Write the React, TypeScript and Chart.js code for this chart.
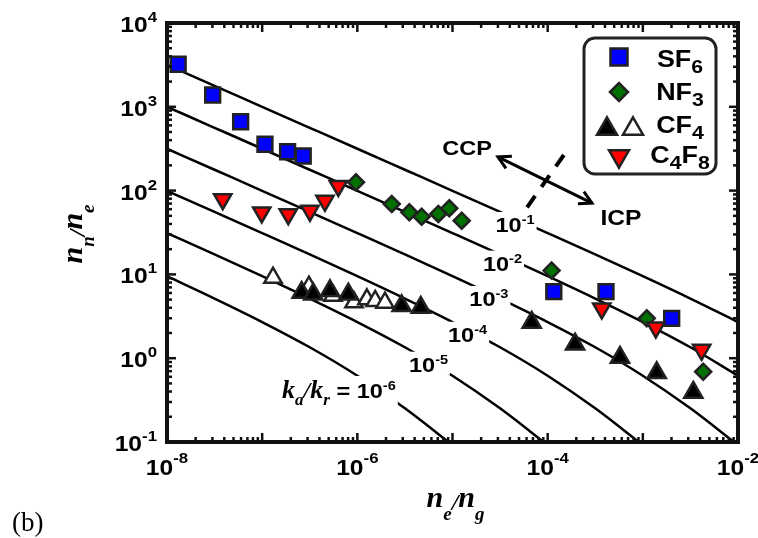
import React, { useEffect, useRef } from 'react';
import { Chart, registerables } from 'chart.js';
Chart.register(...registerables);

// ---------------- data ----------------
const SF6_X = [1.31e-8, 3.02e-8, 5.94e-8, 1.07e-7, 1.85e-7, 2.7e-7, 1.16e-4, 4.1e-4, 2.01e-3];
const SF6_Y = [3215, 1383, 664, 357, 291, 259, 6.22, 6.22, 2.99];

const NF3_X = [9.68e-7, 2.3e-6, 3.52e-6, 4.74e-6, 7.1e-6, 9.25e-6, 1.25e-5, 1.1e-4, 1.1e-3, 4.31e-3];
const NF3_Y = [125.6, 69.2, 55.1, 48.8, 52.6, 61.5, 43.7, 11.1, 2.99, 0.69];

const CF4_FILLED_X = [2.6e-7, 3.44e-7, 5.16e-7, 8.04e-7, 2.92e-6, 4.64e-6, 6.79e-5, 1.94e-4, 5.75e-4, 1.4e-3, 3.39e-3];
const CF4_FILLED_Y = [6.08, 5.81, 6.37, 5.81, 4.22, 4.03, 2.67, 1.47, 1.02, 0.67, 0.39];

const CF4_OPEN_X = [1.3e-7, 3.1e-7, 5.54e-7, 9.23e-7, 1.26e-6, 1.54e-6, 1.95e-6];
const CF4_OPEN_Y = [9.14, 7.13, 5.57, 4.65, 5.05, 4.82, 4.59];

const C4F8_X = [3.85e-8, 9.89e-8, 1.88e-7, 3.18e-7, 4.57e-7, 6.31e-7, 3.7e-4, 1.37e-3, 4.15e-3];
const C4F8_Y = [79, 54.8, 52.3, 57.4, 75.5, 113.5, 3.92, 2.32, 1.26];

// model curves k_a/k_r = 1e-1 ... 1e-6
const CURVE_X = [1e-8, 3.16e-8, 1e-7, 3.16e-7, 1e-6, 3.16e-6, 1e-5, 3.16e-5, 1e-4, 3.16e-4, 1e-3, 3.16e-3, 1e-2];
const CURVE_1 = [3162, 1778, 999.5, 562, 315.7, 177.3, 99.5, 55.7, 31.1, 17.3, 9.51, 5.14, 2.7];
const CURVE_2 = [999.5, 562, 315.7, 177.3, 99.5, 55.7, 31.1, 17.3, 9.51, 5.14, 2.7, 1.35, 0.618];
const CURVE_3 = [315.7, 177.3, 99.5, 55.7, 31.1, 17.3, 9.51, 5.14, 2.7, 1.35, 0.618, 0.252, 0.0916];
const CURVE_4 = [99.5, 55.7, 31.1, 17.3, 9.51, 5.14, 2.7, 1.35, 0.618, 0.252, 0.0916];
const CURVE_5 = [31.1, 17.3, 9.51, 5.14, 2.7, 1.35, 0.618, 0.252, 0.0916];
const CURVE_6 = [9.51, 5.14, 2.7, 1.35, 0.618, 0.252, 0.0916];

// curve labels (exponent, anchor x, anchor baseline y in data units)
const CURVE_LABEL_EXP = ['-1', '-2', '-3', '-4', '-5'];
const CURVE_LABEL_X = [4.54e-5, 3.35e-5, 2.41e-5, 1.44e-5, 5.6e-6];
const CURVE_LABEL_Y = [32.1, 11.1, 4.2, 1.57, 0.69];
const K_LABEL_X = 6.41e-7;
const K_LABEL_Y = 0.335;

const CCP_POS = [1.42e-5, 266];
const ICP_POS = [5.89e-4, 38.8];
const ARROW_FROM = [3.0e-5, 252];
const ARROW_TO = [2.92e-4, 71];
const DASH_FROM = [1.48e-4, 266];
const DASH_TO = [5.91e-5, 60.3];

const X_TICK_EXPONENTS = [-8, -6, -4, -2];
const Y_TICK_EXPONENTS = [-1, 0, 1, 2, 3, 4];

// ---------------- styling ----------------
const SANS = '"Liberation Sans", Arial, sans-serif';
const SERIF = '"Liberation Serif", "Times New Roman", serif';
const SX = 1.12;
const BLUE = '#0000FF';
const GREEN = '#007000';
const RED = '#FF0000';
const EDGE = '#222222';

type Seg = { t: string; f: string; dy?: number; sx?: number; dx?: number };

function segW(ctx: CanvasRenderingContext2D, s: Seg) {
  ctx.font = s.f;
  return ctx.measureText(s.t).width * (s.sx ?? 1) + (s.dx ?? 0);
}
function richWidth(ctx: CanvasRenderingContext2D, segs: Seg[]) {
  return segs.reduce((a, s) => a + segW(ctx, s), 0);
}
function drawRich(ctx: CanvasRenderingContext2D, segs: Seg[], x: number, y: number, align: 'left' | 'center' | 'right') {
  const total = richWidth(ctx, segs);
  let cx = align === 'left' ? x : align === 'center' ? x - total / 2 : x - total;
  for (const s of segs) {
    const w = segW(ctx, s);
    ctx.save();
    ctx.font = s.f;
    ctx.textAlign = 'left';
    ctx.textBaseline = 'alphabetic';
    ctx.translate(cx + (s.dx ?? 0), y + (s.dy ?? 0));
    ctx.scale(s.sx ?? 1, 1);
    ctx.fillText(s.t, 0, 0);
    ctx.restore();
    cx += w;
  }
  return total;
}

function triPath(ctx: CanvasRenderingContext2D, cx: number, cy: number, w: number, down: boolean) {
  const h = w * 0.866;
  ctx.beginPath();
  if (!down) {
    ctx.moveTo(cx, cy - h / 2);
    ctx.lineTo(cx + w / 2, cy + h / 2);
    ctx.lineTo(cx - w / 2, cy + h / 2);
  } else {
    ctx.moveTo(cx, cy + h / 2);
    ctx.lineTo(cx + w / 2, cy - h / 2);
    ctx.lineTo(cx - w / 2, cy - h / 2);
  }
  ctx.closePath();
}

const annotPlugin = {
  id: 'annot',
  afterDatasetsDraw(chart: any) {
    const ctx: CanvasRenderingContext2D = chart.ctx;
    const xs = chart.scales.x;
    const ys = chart.scales.y;
    const a = chart.chartArea;
    const X = (v: number) => xs.getPixelForValue(v);
    const Y = (v: number) => ys.getPixelForValue(v);
    ctx.save();
    ctx.fillStyle = '#000';

    // curve labels with white background
    const big = `bold 21px ${SANS}`;
    const sup = `bold 13px ${SANS}`;
    CURVE_LABEL_EXP.forEach((e, i) => {
      const segs: Seg[] = [
        { t: '10', f: big, sx: SX },
        { t: e, f: sup, dy: -8, sx: SX },
      ];
      const cx = X(CURVE_LABEL_X[i]);
      const by = Y(CURVE_LABEL_Y[i]);
      const w = richWidth(ctx, segs);
      ctx.fillStyle = '#fff';
      ctx.fillRect(cx - w / 2 - 2, by - 20, w + 4, 23);
      ctx.fillStyle = '#000';
      drawRich(ctx, segs, cx, by, 'center');
    });
    {
      const it = `italic bold 26px ${SERIF}`;
      const itSub = `italic bold 17px ${SERIF}`;
      const segs: Seg[] = [
        { t: 'k', f: it },
        { t: 'a', f: itSub, dy: 7 },
        { t: '/', f: `italic bold 24px ${SERIF}` },
        { t: 'k', f: it },
        { t: 'r', f: itSub, dy: 7 },
        { t: ' = ', f: big, sx: SX },
        { t: '10', f: big, sx: SX },
        { t: '-6', f: sup, dy: -8, sx: SX },
      ];
      const cx = X(K_LABEL_X);
      const by = Y(K_LABEL_Y);
      const w = richWidth(ctx, segs);
      ctx.fillStyle = '#fff';
      ctx.fillRect(cx - w / 2 - 2, by - 22, w + 4, 32);
      ctx.fillStyle = '#000';
      drawRich(ctx, segs, cx, by, 'center');
    }

    // CCP / ICP
    drawRich(ctx, [{ t: 'CCP', f: `bold 21px ${SANS}`, sx: SX }], X(CCP_POS[0]), Y(CCP_POS[1]), 'center');
    drawRich(ctx, [{ t: 'ICP', f: `bold 22px ${SANS}`, sx: SX }], X(ICP_POS[0]), Y(ICP_POS[1]), 'center');

    // double arrow
    const ax1 = X(ARROW_FROM[0]), ay1 = Y(ARROW_FROM[1]);
    const ax2 = X(ARROW_TO[0]), ay2 = Y(ARROW_TO[1]);
    ctx.strokeStyle = '#000';
    ctx.lineWidth = 3;
    ctx.lineCap = 'butt';
    ctx.beginPath();
    ctx.moveTo(ax1, ay1);
    ctx.lineTo(ax2, ay2);
    ctx.stroke();
    const head = (tx: number, ty: number, fx: number, fy: number) => {
      const ang = Math.atan2(fy - ty, fx - tx);
      const L = 14;
      const sp = 0.5;
      ctx.beginPath();
      ctx.moveTo(tx + L * Math.cos(ang + sp), ty + L * Math.sin(ang + sp));
      ctx.lineTo(tx, ty);
      ctx.lineTo(tx + L * Math.cos(ang - sp), ty + L * Math.sin(ang - sp));
      ctx.lineJoin = 'miter';
      ctx.stroke();
    };
    head(ax1, ay1, ax2, ay2);
    head(ax2, ay2, ax1, ay1);

    // dashed separator
    ctx.lineWidth = 4;
    ctx.setLineDash([14, 11]);
    ctx.beginPath();
    ctx.moveTo(X(DASH_FROM[0]), Y(DASH_FROM[1]));
    ctx.lineTo(X(DASH_TO[0]), Y(DASH_TO[1]));
    ctx.stroke();
    ctx.setLineDash([]);

    // legend
    const bw = 132, bh = 136;
    const bx = a.right - 154;
    const by = a.top + 15;
    ctx.fillStyle = '#fff';
    ctx.strokeStyle = '#222';
    ctx.lineWidth = 3;
    ctx.beginPath();
    (ctx as any).roundRect(bx, by, bw, bh, 11);
    ctx.fill();
    ctx.stroke();
    const mx = bx + 35;
    const tx = bx + 96;
    ctx.lineWidth = 2.5;
    ctx.strokeStyle = EDGE;
    // SF6 square
    ctx.fillStyle = BLUE;
    ctx.beginPath();
    ctx.rect(mx - 8.5, by + 19 - 8.5, 17, 17);
    ctx.fill();
    ctx.stroke();
    // NF3 diamond
    ctx.fillStyle = GREEN;
    ctx.beginPath();
    const dcy = by + 54;
    ctx.moveTo(mx - 9, dcy);
    ctx.lineTo(mx, dcy - 9);
    ctx.lineTo(mx + 9, dcy);
    ctx.lineTo(mx, dcy + 9);
    ctx.closePath();
    ctx.fill();
    ctx.stroke();
    // CF4 triangles
    ctx.fillStyle = '#000';
    triPath(ctx, mx - 12, by + 88, 20, false);
    ctx.fill();
    ctx.stroke();
    ctx.fillStyle = '#fff';
    triPath(ctx, mx + 14, by + 88, 20, false);
    ctx.fill();
    ctx.stroke();
    // C4F8 inverted
    ctx.fillStyle = RED;
    triPath(ctx, mx, by + 121, 20, true);
    ctx.fill();
    ctx.stroke();

    ctx.fillStyle = '#000';
    const lf = `bold 24px ${SANS}`;
    const ls = `bold 19px ${SANS}`;
    drawRich(ctx, [{ t: 'SF', f: lf, sx: SX }, { t: '6', f: ls, dy: 6, sx: SX }], tx, by + 29, 'center');
    drawRich(ctx, [{ t: 'NF', f: lf, sx: SX }, { t: '3', f: ls, dy: 6, sx: SX }], tx, by + 62, 'center');
    drawRich(ctx, [{ t: 'CF', f: lf, sx: SX }, { t: '4', f: ls, dy: 6, sx: SX }], tx, by + 95, 'center');
    drawRich(ctx, [
      { t: 'C', f: lf, sx: SX },
      { t: '4', f: ls, dy: 6, sx: SX },
      { t: 'F', f: lf, sx: SX },
      { t: '8', f: ls, dy: 6, sx: SX },
    ], tx, by + 125, 'center');
    ctx.restore();
  },
  afterDraw(chart: any) {
    const ctx: CanvasRenderingContext2D = chart.ctx;
    const xs = chart.scales.x;
    const ys = chart.scales.y;
    const a = chart.chartArea;
    ctx.save();
    ctx.strokeStyle = '#111';
    ctx.fillStyle = '#000';

    // ticks (inward, all four sides)
    ctx.lineWidth = 2.5;
    const line = (x1: number, y1: number, x2: number, y2: number) => {
      ctx.beginPath();
      ctx.moveTo(x1, y1);
      ctx.lineTo(x2, y2);
      ctx.stroke();
    };
    for (let e = -8; e <= -2; e++) {
      for (let m = 1; m <= 9; m++) {
        if (e === -2 && m > 1) break;
        const x = xs.getPixelForValue(m * Math.pow(10, e));
        const L = m === 1 ? 9 : 5;
        line(x, a.bottom, x, a.bottom - L);
        line(x, a.top, x, a.top + L);
      }
    }
    for (let e = -1; e <= 4; e++) {
      for (let m = 1; m <= 9; m++) {
        if (e === 4 && m > 1) break;
        const y = ys.getPixelForValue(m * Math.pow(10, e));
        const L = m === 1 ? 9 : 5;
        line(a.left, y, a.left + L, y);
        line(a.right, y, a.right - L, y);
      }
    }

    // frame
    ctx.lineWidth = 4;
    ctx.strokeRect(a.left, a.top, a.right - a.left, a.bottom - a.top);

    // tick labels
    const tf = `bold 22px ${SANS}`;
    const ts = `bold 15px ${SANS}`;
    X_TICK_EXPONENTS.forEach((e) => {
      const x = xs.getPixelForValue(Math.pow(10, e));
      drawRich(ctx, [{ t: '10', f: tf, sx: SX }, { t: String(e), f: ts, dy: -12, sx: SX }], x, a.bottom + 33, 'center');
    });
    Y_TICK_EXPONENTS.forEach((e) => {
      const y = ys.getPixelForValue(Math.pow(10, e));
      drawRich(ctx, [{ t: '10', f: tf, sx: SX }, { t: String(e), f: ts, dy: -10, sx: SX }], a.left - 10, y + 9, 'right');
    });

    // axis titles
    const tt = `italic bold 30px ${SERIF}`;
    const tsub = `italic bold 19px ${SERIF}`;
    const tsl = `italic bold 24px ${SERIF}`;
    const cxm = (a.left + a.right) / 2;
    drawRich(ctx, [
      { t: 'n', f: tt },
      { t: 'e', f: tsub, dy: 13 },
      { t: '/', f: tsl, dy: 3 },
      { t: 'n', f: tt },
      { t: 'g', f: tsub, dy: 13 },
    ], cxm + 3, a.bottom + 65, 'center');

    ctx.save();
    ctx.translate(a.left - 85, (a.top + a.bottom) / 2 + 1.5);
    ctx.rotate(-Math.PI / 2);
    drawRich(ctx, [
      { t: 'n', f: tt },
      { t: 'n', f: tsub, dy: 12 },
      { t: '/', f: tsl, dy: 3 },
      { t: 'n', f: tt },
      { t: 'e', f: tsub, dy: 12 },
    ], 0, 0, 'center');
    ctx.restore();

    // panel label
    ctx.font = `27px ${SERIF}`;
    ctx.textAlign = 'left';
    ctx.textBaseline = 'alphabetic';
    ctx.fillText('(b)', 12, 531);
    ctx.restore();
  },
};

const pts = (xs: number[], ys: number[]) => xs.map((x, i) => ({ x, y: ys[i] }));

const curve = (ys: number[]) => ({
  data: CURVE_X.slice(0, ys.length).map((x, i) => ({ x, y: ys[i] })),
  showLine: true,
  borderColor: '#000',
  borderWidth: 2.5,
  pointRadius: 0,
  cubicInterpolationMode: 'monotone' as const,
  order: 5,
});

export default function App() {
  const ref = useRef<HTMLCanvasElement>(null);
  useEffect(() => {
    const canvas = ref.current;
    if (!canvas) return;
    const marker = (
      data: { x: number; y: number }[],
      style: string,
      r: number,
      fill: string,
      order: number,
      rotation = 0,
    ) => ({
      data,
      showLine: false,
      pointStyle: style,
      pointRadius: r,
      pointHoverRadius: r,
      pointRotation: rotation,
      pointBackgroundColor: fill,
      pointBorderColor: EDGE,
      pointBorderWidth: 2.5,
      order,
      clip: false,
    });
    const chart = new Chart(canvas, {
      type: 'scatter',
      data: {
        datasets: [
          marker(pts(C4F8_X, C4F8_Y), 'triangle', 10, RED, 0, 180),
          marker(pts(CF4_FILLED_X, CF4_FILLED_Y), 'triangle', 10.5, '#000', 0),
          marker(pts(SF6_X, SF6_Y), 'rect', 10.5, BLUE, 1),
          marker(pts(NF3_X, NF3_Y), 'rectRot', 8, GREEN, 1),
          marker(pts(CF4_OPEN_X, CF4_OPEN_Y), 'triangle', 10, '#fff', 2),
          curve(CURVE_1),
          curve(CURVE_2),
          curve(CURVE_3),
          curve(CURVE_4),
          curve(CURVE_5),
          curve(CURVE_6),
        ] as any,
      },
      options: {
        animation: false,
        responsive: false,
        maintainAspectRatio: false,
        events: [],
        layout: { padding: { left: 0, right: 20, top: 23, bottom: 0 } },
        plugins: { legend: { display: false }, tooltip: { enabled: false } },
        scales: {
          x: {
            type: 'logarithmic',
            min: 1e-8,
            max: 1e-2,
            grid: { display: false },
            border: { display: false },
            ticks: { display: false },
            afterFit: (s: any) => {
              s.height = 96;
            },
          },
          y: {
            type: 'logarithmic',
            min: 0.1,
            max: 1e4,
            grid: { display: false },
            border: { display: false },
            ticks: { display: false },
            afterFit: (s: any) => {
              s.width = 167;
            },
          },
        },
      } as any,
      plugins: [annotPlugin as any],
    });
    return () => chart.destroy();
  }, []);
  return (
    <div style={{ position: 'absolute', left: 0, top: 0, width: 758, height: 538, background: '#fff' }}>
      <canvas ref={ref} width={758} height={538} style={{ display: 'block', width: 758, height: 538 }} />
    </div>
  );
}
